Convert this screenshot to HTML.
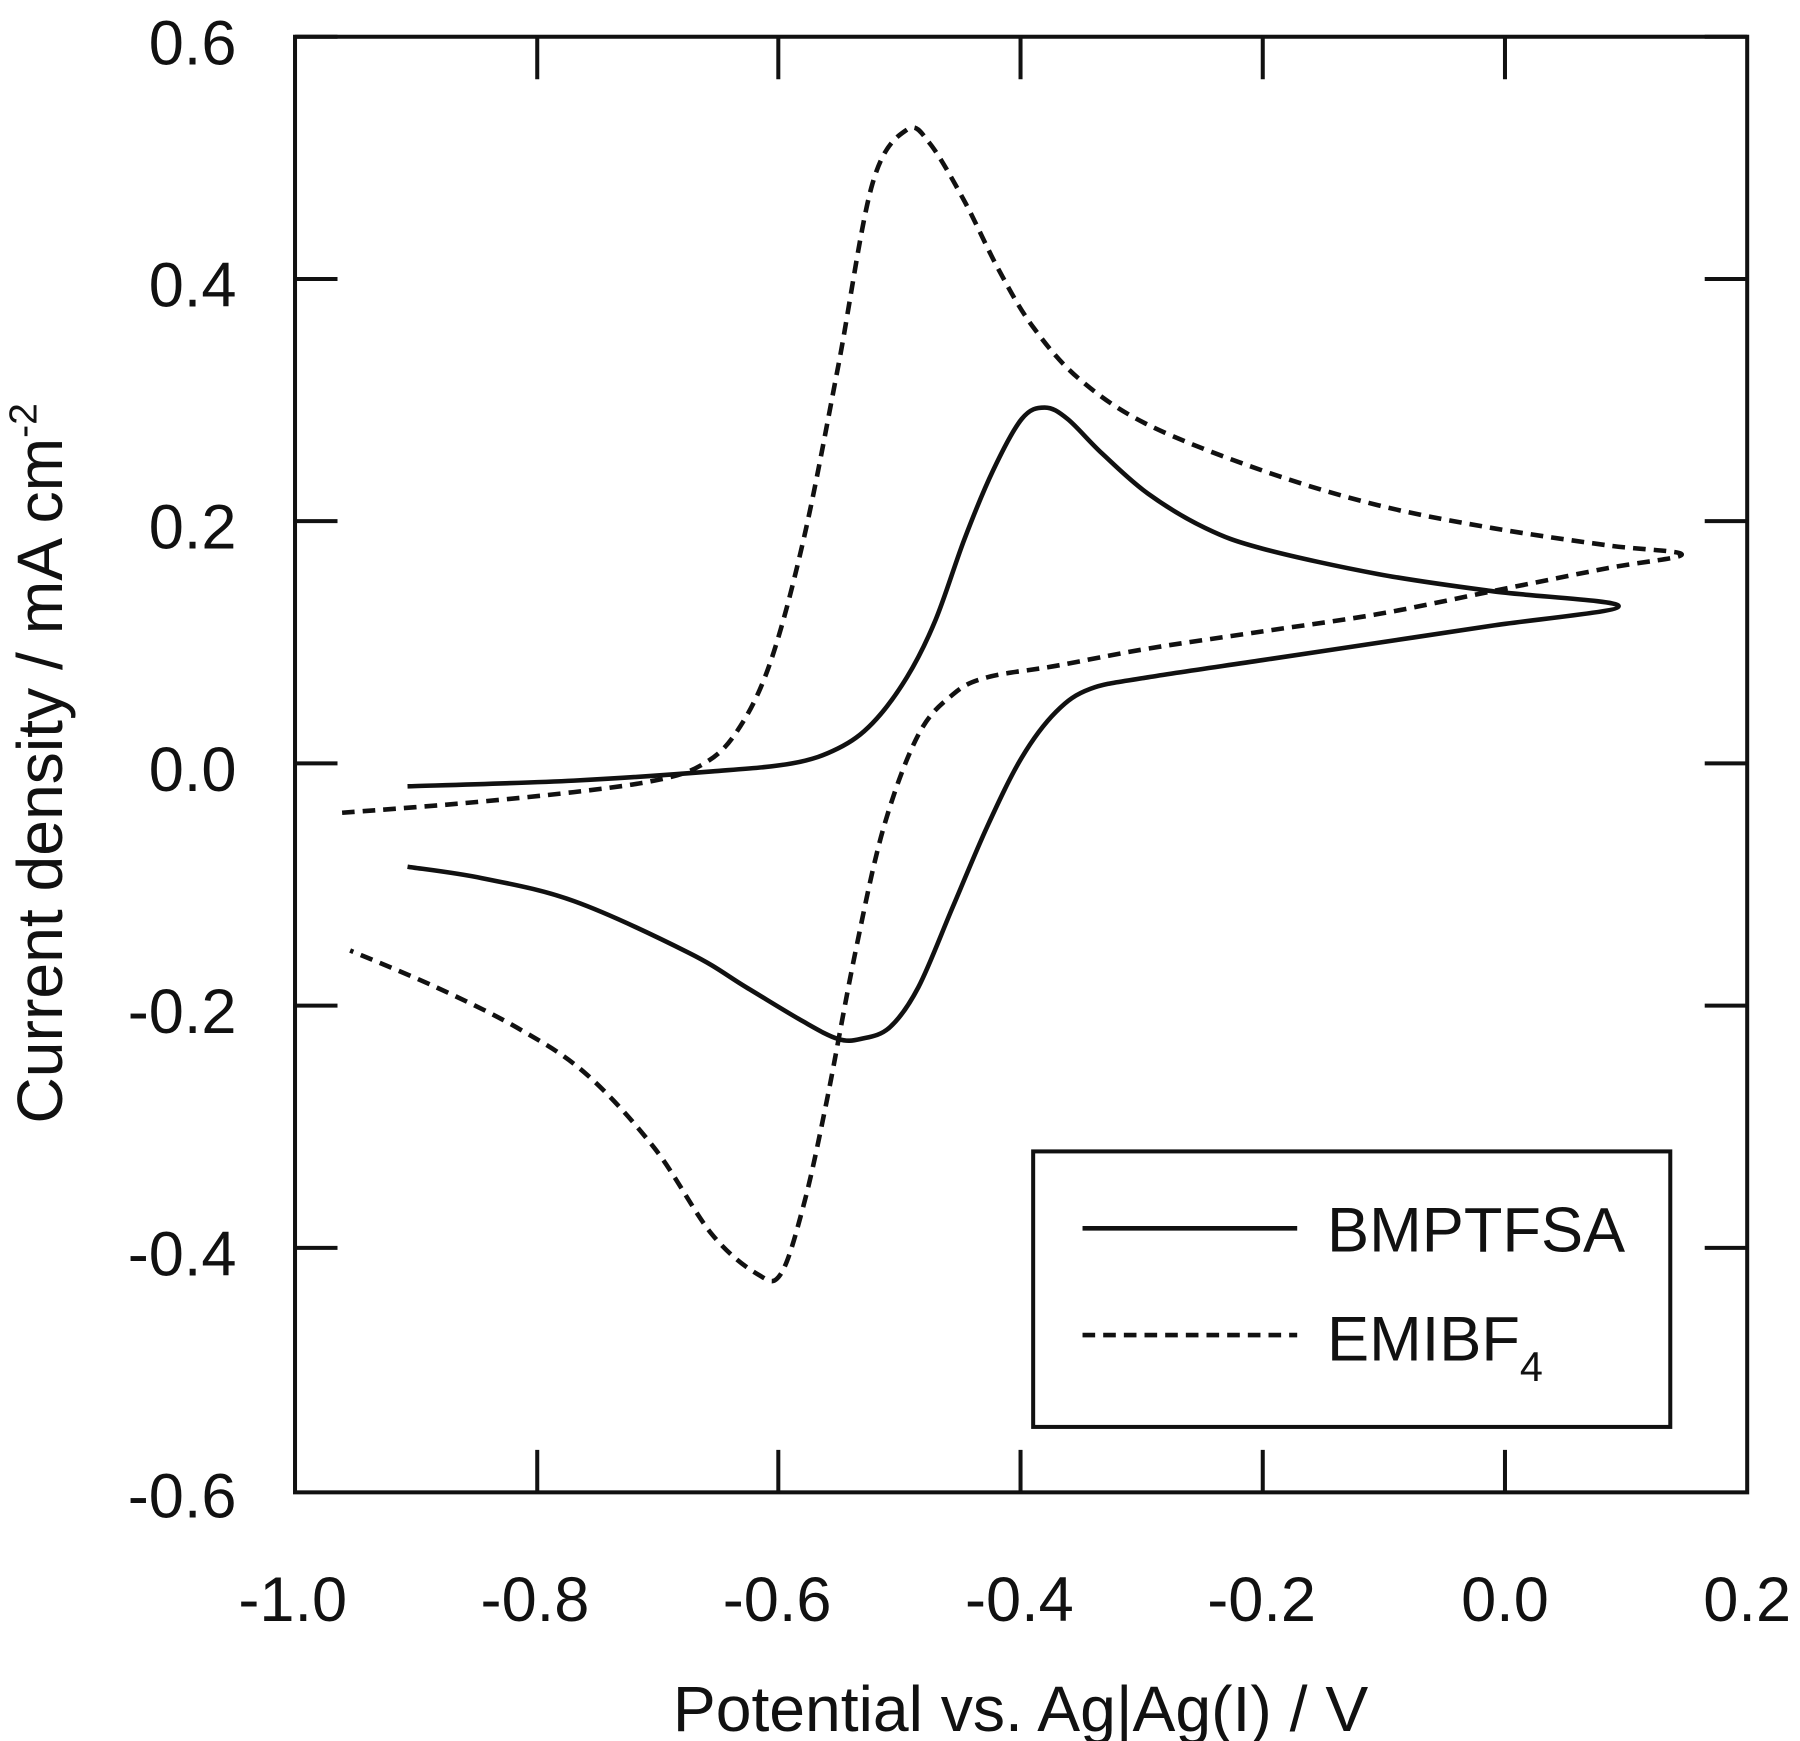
<!DOCTYPE html>
<html><head><meta charset="utf-8"><style>
html,body{margin:0;padding:0;background:#fff;}
svg{display:block;}
text{font-family:"Liberation Sans",Arial,sans-serif;fill:#111;}
</style></head><body>
<svg id="s" width="1800" height="1741" viewBox="0 0 1568 1516.6" xmlns="http://www.w3.org/2000/svg">
<rect x="0" y="0" width="1568" height="1517" fill="#fff"/>
<g stroke="#111" stroke-width="3.5" fill="none">
<rect x="257" y="32" width="1265" height="1268"/>
<path d="M257 243h37M257 454h37M257 665h37M257 876h37M257 1087h37M1522 243h-37M1522 454h-37M1522 665h-37M1522 876h-37M1522 1087h-37M257 32h37M1522 32h-37"/>
<path d="M468 1300v-37M678 1300v-37M889 1300v-37M1100 1300v-37M1311 1300v-37M468 32v37M678 32v37M889 32v37M1100 32v37M1311 32v37"/>
</g>
<g font-size="55" text-anchor="end">
<text x="206" y="56">0.6</text>
<text x="206" y="267">0.4</text>
<text x="206" y="478">0.2</text>
<text x="206" y="689">0.0</text>
<text x="206" y="900">-0.2</text>
<text x="206" y="1111">-0.4</text>
<text x="206" y="1322">-0.6</text>
</g>
<g font-size="55" text-anchor="middle">
<text x="255" y="1412">-1.0</text>
<text x="466" y="1412">-0.8</text>
<text x="677" y="1412">-0.6</text>
<text x="888" y="1412">-0.4</text>
<text x="1099" y="1412">-0.2</text>
<text x="1311" y="1412">0.0</text>
<text x="1522" y="1412">0.2</text>
</g>
<text x="889" y="1508" font-size="56" text-anchor="middle">Potential vs. Ag|Ag(I) / V</text>
<text font-size="56" text-anchor="middle" transform="translate(54,665) rotate(-90)">Current density / mA cm<tspan font-size="34" dy="-22">-2</tspan></text>
<path id="p1" stroke="#111" stroke-width="4" fill="none"/>
<path id="p2" stroke="#111" stroke-width="4" fill="none" stroke-dasharray="11 7"/>
<rect x="900" y="1003" width="555" height="240" fill="none" stroke="#111" stroke-width="3.5"/>
<path d="M943 1070H1130" stroke="#111" stroke-width="4"/>
<path d="M943 1163H1130" stroke="#111" stroke-width="4" stroke-dasharray="11 7"/>
<text x="1156" y="1090" font-size="55">BMPTFSA</text>
<text x="1156" y="1185" font-size="55">EMIBF<tspan font-size="36" dy="18">4</tspan></text>
</svg>
<script>
function cr(p){var d="M"+p[0][0]+" "+p[0][1];for(var i=0;i<p.length-1;i++){var a=p[i-1]||p[i],b=p[i],c=p[i+1],e=p[i+2]||c;
d+="C"+(b[0]+(c[0]-a[0])/6).toFixed(1)+" "+(b[1]+(c[1]-a[1])/6).toFixed(1)+" "+(c[0]-(e[0]-b[0])/6).toFixed(1)+" "+(c[1]-(e[1]-b[1])/6).toFixed(1)+" "+c[0]+" "+c[1];}return d;}
var s1=[[355,685],[500,680],[620,672],[690,665],[730,652],[760,630],[790,590],[815,540],[840,470],[865,410],[890,365],[910,355],[930,365],[960,395],[1000,430],[1050,460],[1100,478],[1200,500],[1300,515],[1410,528],[1300,545],[1200,560],[1100,575],[1000,590],[950,600],[920,620],[890,660],[860,720],[830,790],[800,860],[775,895],[750,905],[730,905],[700,890],[650,860],[600,830],[500,785],[420,765],[355,755]];
var s2=[[298,708],[400,700],[500,690],[570,680],[610,667],[640,640],[670,580],[700,470],[730,320],[760,160],[790,113],[810,125],[840,175],[870,235],[900,285],[940,330],[1000,370],[1100,410],[1200,440],[1300,460],[1400,475],[1465,483],[1400,495],[1300,515],[1200,535],[1100,550],[1000,565],[920,580],[860,590],[830,605],[800,640],[770,720],[745,830],[720,960],[700,1050],[680,1110],[660,1110],[620,1075],[570,1000],[510,935],[450,895],[380,860],[305,828]];
document.getElementById("p1").setAttribute("d",cr(s1));
document.getElementById("p2").setAttribute("d",cr(s2));
</script>
</body></html>
